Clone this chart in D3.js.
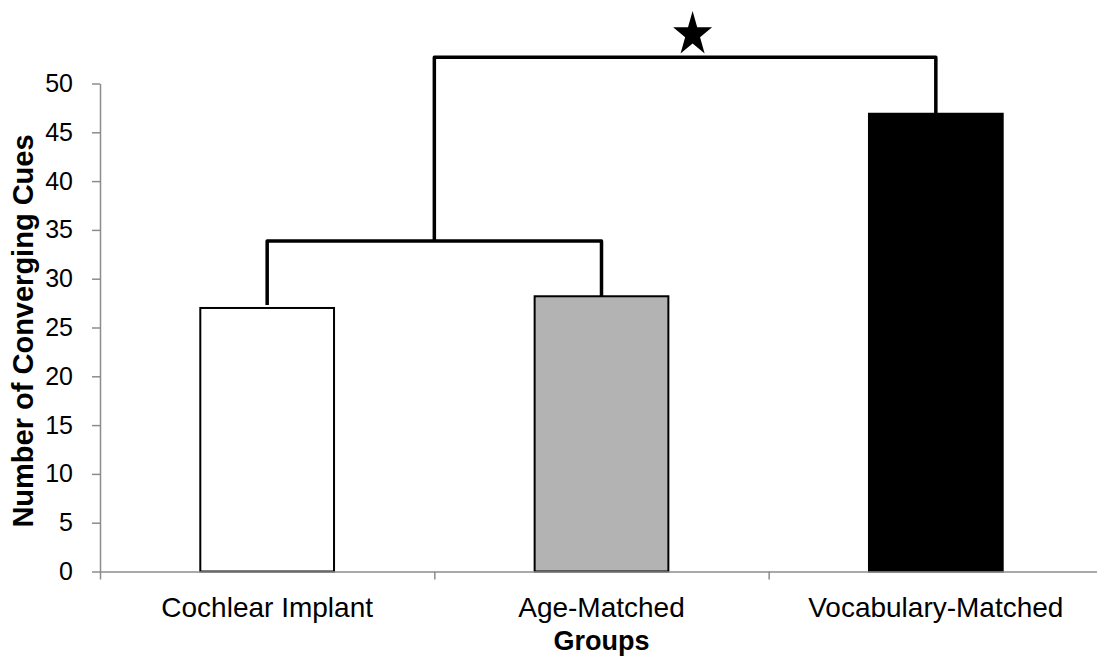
<!DOCTYPE html>
<html>
<head>
<meta charset="utf-8">
<script src="https://cdn.jsdelivr.net/npm/d3@7"></script>
<style>
  html, body { margin: 0; padding: 0; background: #fff; }
  svg { display: block; font-family: "Liberation Sans", Arial, sans-serif; }
</style>
</head>
<body>
<svg id="chart" width="1097" height="662"></svg>
<script>
// ---- data ----
const categories = ["Cochlear Implant", "Age-Matched", "Vocabulary-Matched"];
const values = [27.0, 28.2, 46.9];
const barFills = ["#ffffff", "#b3b3b3", "#000000"];
const yTicks = [0, 5, 10, 15, 20, 25, 30, 35, 40, 45, 50];
const yTitle = "Number of Converging Cues";
const xTitle = "Groups";
// significance brackets (values in data units)
const lowerBracketLevel = 33.85;
const upperBracketLevel = 52.7;

// ---- layout ----
const svg = d3.select("#chart");
const x = d3.scaleBand().domain(categories).range([100, 1103]).paddingInner(0).paddingOuter(0);
const y = d3.scaleLinear().domain([0, 50]).range([571.5, 83.5]);
const axisColor = "#8c8c8c";
const barW = x.bandwidth() * 0.4;
const cx = c => x(c) + x.bandwidth() / 2;

// y axis
const yAxis = svg.append("g").attr("transform", "translate(100,0)")
  .call(d3.axisLeft(y).tickValues(yTicks).tickSize(8).tickPadding(19).tickSizeOuter(0));
yAxis.select(".domain").attr("stroke", axisColor).attr("stroke-width", 1.5);
yAxis.selectAll(".tick line").attr("stroke", axisColor).attr("stroke-width", 1.5);
yAxis.selectAll(".tick text").attr("font-size", 25).attr("fill", "#000")
  .attr("font-family", "Liberation Sans, Arial, sans-serif");

// bars
svg.append("g").selectAll("rect").data(categories).join("rect")
  .attr("x", c => cx(c) - barW / 2)
  .attr("y", (c, i) => y(values[i]))
  .attr("width", barW)
  .attr("height", (c, i) => y(0) - y(values[i]))
  .attr("fill", (c, i) => barFills[i])
  .attr("stroke", "#000")
  .attr("stroke-width", 2);

// x axis
const xAxisScale = d3.scaleLinear().domain([0, 3]).range([100, 1103]);
const xAxis = svg.append("g").attr("transform", `translate(0,${y(0)})`)
  .call(d3.axisBottom(xAxisScale).tickValues([0, 1, 2, 3]).tickFormat("").tickSize(8).tickSizeOuter(0));
xAxis.select(".domain").attr("stroke", axisColor).attr("stroke-width", 1.5);
xAxis.selectAll(".tick line").attr("stroke", axisColor).attr("stroke-width", 1.5);

// category labels
svg.append("g").selectAll("text").data(categories).join("text")
  .attr("x", c => cx(c))
  .attr("y", 617)
  .attr("text-anchor", "middle")
  .attr("font-size", 28)
  .attr("fill", "#000")
  .text(c => c);

// axis titles
svg.append("text")
  .attr("x", (100 + 1103) / 2)
  .attr("y", 650)
  .attr("text-anchor", "middle")
  .attr("font-size", 27)
  .attr("font-weight", "bold")
  .text(xTitle);

svg.append("text")
  .attr("transform", `translate(33,331) rotate(-90)`)
  .attr("text-anchor", "middle")
  .attr("font-size", 29)
  .attr("font-weight", "bold")
  .text(yTitle);

// brackets
const bracket = svg.append("g").attr("fill", "none").attr("stroke", "#000")
  .attr("stroke-width", 3.5).attr("stroke-linejoin", "round");
const c0 = cx(categories[0]), c1 = cx(categories[1]), c2 = cx(categories[2]);
const mid01 = (c0 + c1) / 2;
bracket.append("path").attr("d", d3.line()([
  [c0, y(values[0]) - 3], [c0, y(lowerBracketLevel)], [c1, y(lowerBracketLevel)], [c1, y(values[1])]
]));
bracket.append("path").attr("d", d3.line()([
  [mid01, y(lowerBracketLevel)], [mid01, y(upperBracketLevel)], [c2, y(upperBracketLevel)], [c2, y(values[2])]
]));

// star
const starCx = mid01 + (c2 - mid01) * 0.515;
const R = 20.5, r = R * 0.382;
const pts = d3.range(10).map(i => {
  const a = -Math.PI / 2 + i * Math.PI / 5;
  const rad = i % 2 === 0 ? R : r;
  return [rad * Math.cos(a), rad * Math.sin(a)];
});
svg.append("path")
  .attr("d", d3.line()(pts) + "Z")
  .attr("transform", `translate(${starCx},34.5) scale(1,1.15)`)
  .attr("fill", "#000");
</script>
</body>
</html>
